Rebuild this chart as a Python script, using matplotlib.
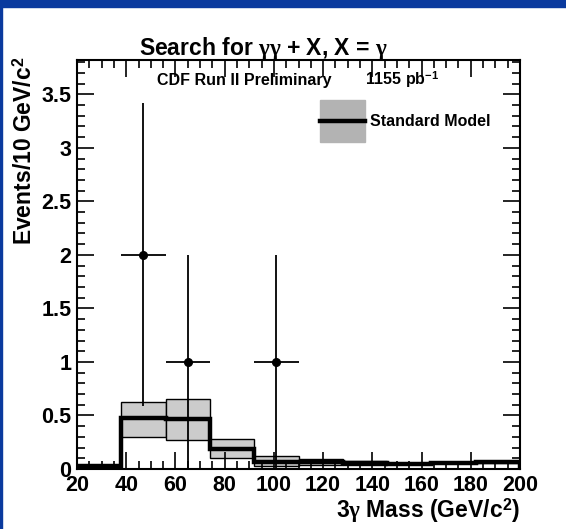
import matplotlib
matplotlib.use("Agg")
import matplotlib.pyplot as plt
from matplotlib.patches import Rectangle
from matplotlib.ticker import MultipleLocator, FormatStrFormatter
import numpy as np

# binning of the 3-photon mass histogram (GeV/c^2)
bin_edges = [20, 38, 56, 74, 92, 110, 128, 146, 164, 182, 200]

# Standard Model expectation and its uncertainty band
sm_mean = [0.025, 0.48, 0.47, 0.19, 0.07, 0.065, 0.055, 0.05, 0.06, 0.065]
sm_high = [0.030, 0.63, 0.65, 0.28, 0.12, 0.090, 0.075, 0.055, 0.065, 0.07]
sm_low = [0.020, 0.30, 0.27, 0.10, 0.03, 0.040, 0.040, 0.045, 0.055, 0.06]

# observed events
data_mass = [47, 65, 101]
data_counts = [2, 1, 1]
data_halfwidth = [9, 9, 9]

plt.rcParams['font.family'] = ['Liberation Sans', 'DejaVu Sans']
plt.rcParams['font.weight'] = 'bold'
plt.rcParams['mathtext.fontset'] = 'custom'
plt.rcParams['mathtext.rm'] = 'Liberation Serif'
plt.rcParams['mathtext.bf'] = 'Liberation Sans:bold'
plt.rcParams['mathtext.default'] = 'rm'

W, H = 566, 529
fig = plt.figure(figsize=(W / 100, H / 100), dpi=100)
ax = fig.add_axes([77 / W, 1 - 469 / H, (520 - 77) / W, (469 - 60) / H])

# blue slide frame
fig.patches.append(Rectangle((0, 1 - 7 / H), 1, 7 / H, transform=fig.transFigure,
                             color='#0a3a9e', zorder=0))
fig.patches.append(Rectangle((0, 0), 2 / W, 1, transform=fig.transFigure,
                             color='#0a3a9e', zorder=0))

edges = np.array(bin_edges)
widths = np.diff(edges)
lo = np.array(sm_low)
hi = np.array(sm_high)
ax.bar(edges[:-1], hi - lo, width=widths, bottom=lo, align='edge',
       color='#cccccc', edgecolor='black', linewidth=1.0, zorder=1)
ax.stairs(sm_mean, edges, color='black', linewidth=3.2, zorder=2)

ax.errorbar(data_mass, data_counts, yerr=np.sqrt(data_counts), xerr=data_halfwidth,
            fmt='o', color='black', markersize=5.5, elinewidth=1.3, capsize=0, zorder=3)

ax.set_xlim(20, 200)
ax.set_ylim(0, 3.82)
ax.xaxis.set_major_locator(MultipleLocator(20))
ax.xaxis.set_minor_locator(MultipleLocator(5))
ax.yaxis.set_major_locator(MultipleLocator(0.5))
ax.yaxis.set_minor_locator(MultipleLocator(0.1))
ax.yaxis.set_major_formatter(FormatStrFormatter('%g'))
ax.tick_params(which='both', direction='in', top=True, right=True, width=1.2)
ax.tick_params(which='major', length=12)
ax.tick_params(which='minor', length=6)
ax.tick_params(axis='x', labelsize=15.5, pad=4)
ax.tick_params(axis='y', labelsize=15.5, pad=4)
for s in ax.spines.values():
    s.set_linewidth(1.5)

fig.text(263 / W, 1 - 55 / H, r'Search for $\gamma\gamma$ + X, X = $\gamma$',
         fontsize=16.5, ha='center', va='baseline')
fig.text(520 / W, 1 - 518 / H, r'3$\gamma$ Mass (GeV/c$^{\mathbf{2}}$)',
         fontsize=16.5, ha='right', va='baseline')
fig.text(25 / W, 1 - 57 / H, r'Events/10 GeV/c$^{\mathbf{2}}$',
         fontsize=16.5, rotation=90, ha='center', va='top')

fig.text(157 / W, 1 - 85 / H, 'CDF Run II Preliminary', fontsize=11.5, va='baseline')
fig.text(365 / W, 1 - 85 / H, r'1155 pb$^{\mathbf{-1}}$', fontsize=11.5, va='baseline')

# legend drawn by hand: grey box with the SM line through it
ax.add_patch(Rectangle((320 / W, 1 - 142 / H), 45 / W, 42 / H, transform=fig.transFigure,
                       color='#b3b3b3', zorder=4))
ax.plot([320 / W, 365 / W], [1 - 121 / H, 1 - 121 / H], transform=fig.transFigure,
        color='black', linewidth=3.2, zorder=5)
fig.text(370 / W, 1 - 121 / H, 'Standard Model', fontsize=11.5, va='center')

fig.savefig('out.png', dpi=100)
